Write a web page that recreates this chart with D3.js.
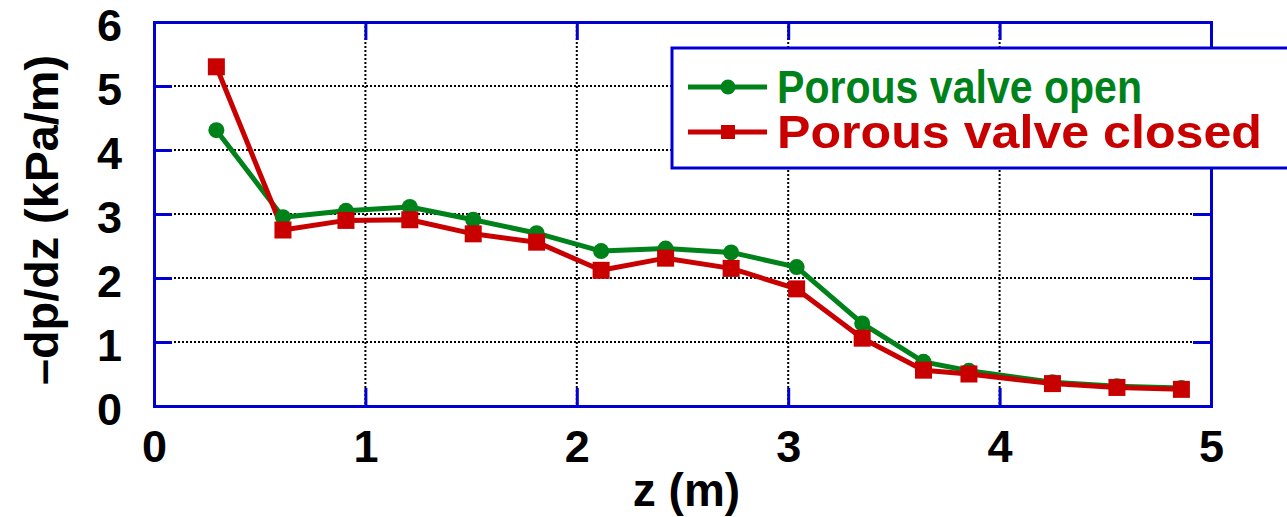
<!DOCTYPE html>
<html><head><meta charset="utf-8">
<script src="https://cdn.jsdelivr.net/npm/d3@7"></script>
<style>body{margin:0;background:#fff;} text{font-family:"Liberation Sans",Arial,sans-serif;font-weight:bold;}</style>
</head><body><svg id="c" width="1287" height="517"></svg>
<script>
const zPos = [0.295, 0.61, 0.908, 1.21, 1.51, 1.81, 2.115, 2.42, 2.73, 3.04, 3.35, 3.64, 3.855, 4.25, 4.555, 4.86];
const openVals = [4.31, 2.95, 3.05, 3.11, 2.91, 2.70, 2.42, 2.46, 2.40, 2.17, 1.29, 0.69, 0.55, 0.37, 0.31, 0.28];
const closedVals = [5.30, 2.75, 2.90, 2.91, 2.69, 2.56, 2.12, 2.31, 2.15, 1.83, 1.06, 0.56, 0.50, 0.35, 0.29, 0.26];
const xTicks = [0, 1, 2, 3, 4, 5];
const yTicks = [0, 1, 2, 3, 4, 5, 6];
const seriesNames = ["Porous valve open", "Porous valve closed"];

const svg = d3.select("#c");
const L = 154, R = 1211, T = 22, B = 406;
const x = d3.scaleLinear().domain([0, 5]).range([L, R]);
const y = d3.scaleLinear().domain([0, 6]).range([B, T]);
const blue = "#0000d0", green = "#00821a", red = "#c80000";

// grid
svg.append("g").selectAll("line").data(xTicks.slice(1, -1)).join("line")
  .attr("x1", d => x(d)).attr("x2", d => x(d)).attr("y1", T).attr("y2", B)
  .attr("stroke", "#000").attr("stroke-width", 2).attr("stroke-dasharray", "2,2");
svg.append("g").selectAll("line").data(yTicks.slice(1, -1)).join("line")
  .attr("y1", d => y(d)).attr("y2", d => y(d)).attr("x1", L).attr("x2", R)
  .attr("stroke", "#000").attr("stroke-width", 2).attr("stroke-dasharray", "2,2");

// axes with inner ticks
const tl = 18;
const axB = svg.append("g").attr("transform", `translate(0,${B})`).call(d3.axisBottom(x).tickValues(xTicks).tickSize(-tl).tickPadding(24).tickFormat(d3.format("d")));
const axT = svg.append("g").attr("transform", `translate(0,${T})`).call(d3.axisTop(x).tickValues(xTicks).tickSize(-tl).tickFormat(""));
const axL = svg.append("g").attr("transform", `translate(${L},0)`).call(d3.axisLeft(y).tickValues(yTicks).tickSize(-tl).tickPadding(32).tickFormat(d3.format("d")));
const axR = svg.append("g").attr("transform", `translate(${R},0)`).call(d3.axisRight(y).tickValues(yTicks).tickSize(-tl).tickFormat(""));
[axB, axT, axL, axR].forEach(a => {
  a.select(".domain").attr("stroke", blue).attr("stroke-width", 3);
  a.selectAll(".tick line").attr("stroke", blue).attr("stroke-width", 3);
  a.selectAll("text").attr("fill", "#000").style("font-size", "45px").style("font-family", "Liberation Sans, Arial, sans-serif").style("font-weight", "bold");
});
axB.selectAll("text").attr("dy", "0.71em");
axL.selectAll("text").attr("dy", "0.42em");

// axis titles
svg.append("text").attr("x", x(2.5) + 4).attr("y", 506).attr("text-anchor", "middle")
  .style("font-size", "46px").text("z (m)");
svg.append("text").attr("transform", `translate(58,${y(3) + 6}) rotate(-90)`).attr("text-anchor", "middle")
  .attr("textLength", 330).attr("lengthAdjust", "spacingAndGlyphs")
  .style("font-size", "46px").text("\u2013dp/dz (kPa/m)");

// lines
const line = d3.line().x((d, i) => x(zPos[i])).y(d => y(d));
svg.append("path").datum(openVals).attr("d", line).attr("fill", "none").attr("stroke", green).attr("stroke-width", 5).attr("stroke-linejoin", "round");
svg.append("path").datum(closedVals).attr("d", line).attr("fill", "none").attr("stroke", red).attr("stroke-width", 5).attr("stroke-linejoin", "round");
svg.append("g").selectAll("circle").data(openVals).join("circle")
  .attr("cx", (d, i) => x(zPos[i])).attr("cy", d => y(d)).attr("r", 8).attr("fill", green);
const s = 17;
svg.append("g").selectAll("rect").data(closedVals).join("rect")
  .attr("x", (d, i) => x(zPos[i]) - s / 2).attr("y", d => y(d) - s / 2).attr("width", s).attr("height", s).attr("fill", red);

// legend
const lg = svg.append("g");
lg.append("rect").attr("x", 672).attr("y", 48).attr("width", 640).attr("height", 120)
  .attr("fill", "#fff").attr("stroke", blue).attr("stroke-width", 3);
const legY = [87, 132];
const cols = [green, red];
lg.selectAll("line.l").data(seriesNames).join("line").attr("class", "l")
  .attr("x1", 688).attr("x2", 767).attr("y1", (d, i) => legY[i]).attr("y2", (d, i) => legY[i])
  .attr("stroke", (d, i) => cols[i]).attr("stroke-width", 5);
lg.append("circle").attr("cx", 728).attr("cy", legY[0]).attr("r", 7.5).attr("fill", green);
lg.append("rect").attr("x", 728 - 7).attr("y", legY[1] - 7).attr("width", 14).attr("height", 14).attr("fill", red);
const lens = [365, 485];
lg.selectAll("text.t").data(seriesNames).join("text").attr("class", "t")
  .attr("x", 777).attr("y", (d, i) => legY[i] + 16)
  .attr("fill", (d, i) => cols[i])
  .attr("textLength", (d, i) => lens[i]).attr("lengthAdjust", "spacingAndGlyphs")
  .style("font-size", "46px").text(d => d);
</script></body></html>
